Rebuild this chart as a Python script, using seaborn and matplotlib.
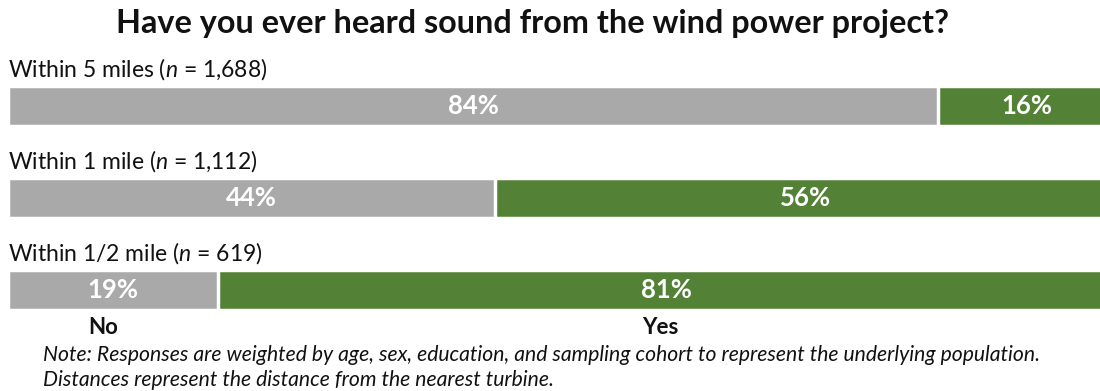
import matplotlib
matplotlib.use("Agg")
import matplotlib.pyplot as plt
import seaborn as sns
import pandas as pd

categories = ["Within 5 miles", "Within 1 mile", "Within 1/2 mile"]
sample_sizes = ["1,688", "1,112", "619"]
no_pct = [84, 44, 19]
yes_pct = [16, 56, 81]
title = "Have you ever heard sound from the wind power project?"
note_lines = [
    "Note: Responses are weighted by age, sex, education, and sampling cohort to represent the underlying population.",
    "Distances represent the distance from the nearest turbine.",
]

GRAY = "#a9a9a9"
GREEN = "#538135"

sns.set_theme(style="white")
plt.rcParams["font.family"] = ["Lato", "DejaVu Sans"]
plt.rcParams["mathtext.fontset"] = "custom"
plt.rcParams["mathtext.rm"] = "Lato"
plt.rcParams["mathtext.it"] = "Lato:italic"

df = pd.DataFrame({"cat": categories, "no": no_pct, "yes": yes_pct})
df["total"] = df["no"] + df["yes"]

W, H = 1100, 391
fig = plt.figure(figsize=(11, 3.91), dpi=100)
# bars run past the right edge of the picture (cropped in the reference)
ax = fig.add_axes([8 / W, 1 - 335.5 / H, 1107 / W, 275.5 / H])

sns.barplot(data=df, x="total", y="cat", orient="h", color=GREEN, width=0.435,
            edgecolor="white", linewidth=2.5, saturation=1, ax=ax)
sns.barplot(data=df, x="no", y="cat", orient="h", color=GRAY, width=0.435,
            edgecolor="white", linewidth=2.5, saturation=1, ax=ax)

ax.set_xlim(0, 100)
ax.set_ylim(2.5, -0.5)
ax.axis("off")

for i, (c, n, no, yes) in enumerate(zip(categories, sample_sizes, no_pct, yes_pct)):
    ax.text(0, i - 0.40, f"{c} ($n$ = {n})", fontsize=16.5, color="#111111",
            ha="left", va="center")
    ax.text(no / 2, i, f"{no}%", fontsize=18.5, fontweight="bold", color="white",
            ha="center", va="center")
    ax.text(no + yes / 2, i, f"{yes}%", fontsize=18.5, fontweight="bold", color="white",
            ha="center", va="center")

fig.text(103 / W, 1 - 327 / H, "No", fontsize=16, fontweight="bold",
         ha="center", va="center", color="#111111")
fig.text(660 / W, 1 - 327 / H, "Yes", fontsize=16, fontweight="bold",
         ha="center", va="center", color="#111111")

fig.text(533 / W, 1 - 24 / H, title, fontsize=23.3, fontweight="bold",
         ha="center", va="center", color="#111111")

fig.text(43 / W, 1 - 355 / H, note_lines[0], fontsize=15.2, style="italic",
         ha="left", va="center", color="#111111")
fig.text(43 / W, 1 - 380 / H, note_lines[1], fontsize=15.2, style="italic",
         ha="left", va="center", color="#111111")

fig.savefig("out.png", dpi=100, facecolor="white")
